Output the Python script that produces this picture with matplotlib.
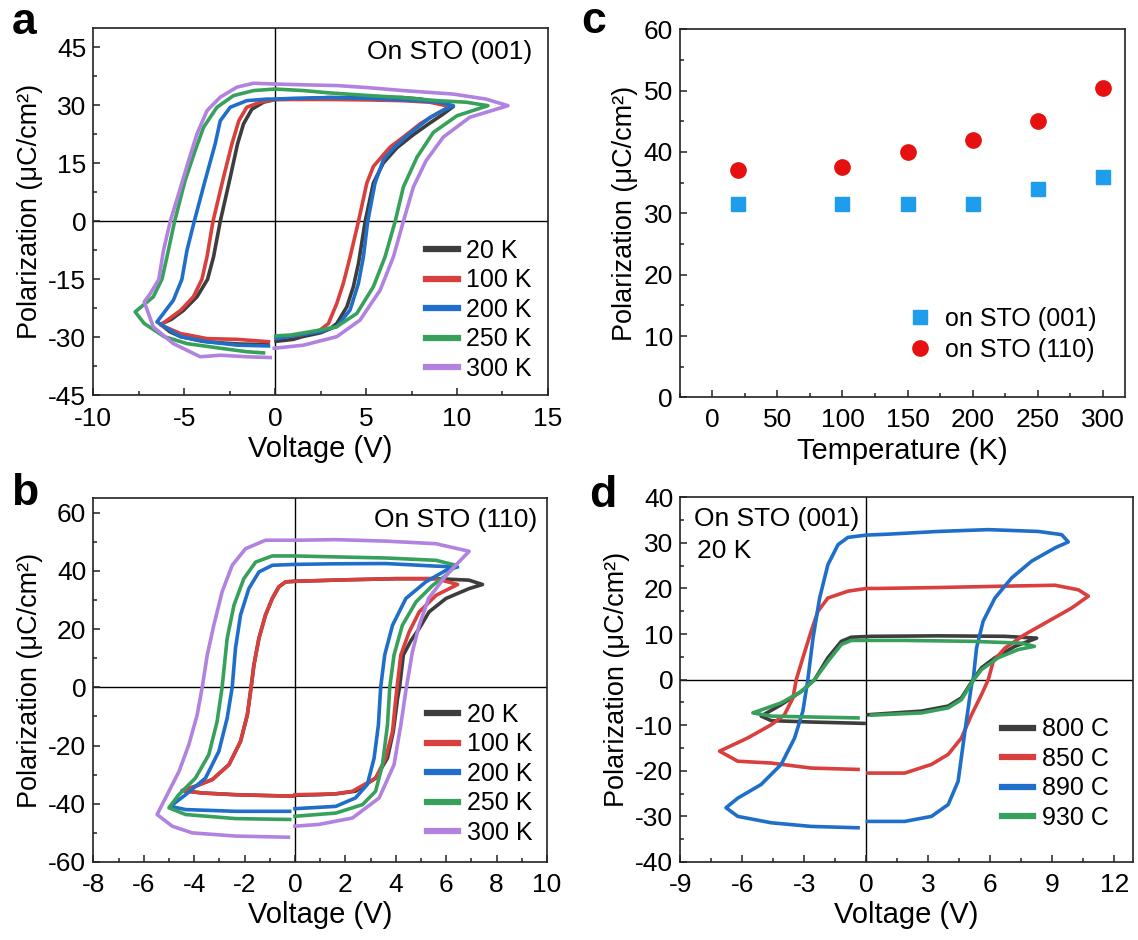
import matplotlib
matplotlib.use("Agg")
import matplotlib.pyplot as plt
from matplotlib.ticker import MultipleLocator

plt.rcParams['font.family'] = ['Liberation Sans', 'DejaVu Sans']
plt.rcParams['axes.unicode_minus'] = False

# ---------------- colours ----------------
C_BLACK = '#3d3d3d'
C_RED = '#d9403d'
C_BLUE = '#1f6fca'
C_GREEN = '#37a15c'
C_PURPLE = '#b182e0'

# ---------------- panel a : On STO (001) ----------------
a_labels = ['20 K', '100 K', '200 K', '250 K', '300 K']

a20_V = [0.05, 1.0, 1.5, 2.5, 3.0, 3.39, 3.94, 4.3, 4.58, 4.95, 5.4, 5.95, 6.69, 7.6, 8.5, 9.2, 9.8,
         9.0, 8.0, 7.0, 5.0, 3.0, 1.0, 0.0, -0.64, -1.28, -1.74, -2.07, -2.47, -3.02, -3.39,
         -3.72, -4.3, -5.04, -5.7, -6.3, -5.8, -5.2, -4.0, -3.0, -2.0, -1.0, -0.4]
a20_P = [-31.0, -30.5, -29.8, -28.8, -27.8, -26.4, -22.1, -16.9, -10.9, 0.0, 9.9, 15.1, 19.0, 22.4, 25.4, 27.6, 29.7,
         30.6, 31.6, 32.0, 32.0, 32.0, 31.6, 31.5, 30.8, 29.0, 25.2, 20.0, 11.4, 0.0, -9.2,
         -15.0, -19.5, -23.0, -25.3, -26.6, -28.5, -29.8, -31.0, -31.4, -31.7, -31.8, -31.8]

a100_V = [0.05, 1.0, 1.56, 2.47, 2.93, 3.39, 3.75, 4.12, 4.58, 5.04, 5.4, 5.77, 6.32, 7.05, 7.97, 8.8, 9.6,
          8.5, 7.0, 5.0, 3.0, 1.0, 0.0, -0.82, -1.56, -2.0, -2.38, -2.84, -3.42, -3.75, -4.03,
          -4.5, -5.2, -6.3, -5.2, -3.75, -2.1, -0.37]
a100_P = [-30.0, -29.6, -29.2, -28.1, -26.4, -21.2, -16.0, -9.2, 0.0, 9.9, 14.2, 16.2, 19.2, 21.8, 25.2, 27.6, 29.7,
          30.8, 31.2, 31.4, 31.5, 31.5, 31.5, 30.8, 29.5, 26.0, 20.0, 11.4, 0.0, -9.2, -15.0,
          -19.5, -23.0, -26.8, -29.0, -30.3, -30.5, -31.1]

a200_V = [0.05, 1.5, 2.5, 3.39, 4.12, 4.58, 4.85, 5.09, 5.49, 5.95, 6.5, 7.42, 8.5, 9.2, 9.8,
          9.0, 7.5, 5.0, 3.0, 1.0, 0.0, -0.46, -1.56, -2.47, -3.02, -3.3, -3.85, -4.45, -4.85,
          -5.13, -5.6, -6.5, -5.2, -3.75, -2.1, -0.37]
a200_P = [-30.3, -29.2, -28.5, -27.2, -22.9, -16.0, -9.2, 0.0, 9.9, 15.9, 18.9, 22.8, 26.8, 28.6, 29.9,
          30.8, 31.3, 31.8, 32.0, 31.8, 31.6, 31.6, 31.2, 29.5, 26.0, 20.0, 10.6, 0.0, -7.5,
          -15.0, -20.4, -26.0, -29.8, -31.1, -32.0, -32.2]

a250_V = [0.04, 0.82, 2.47, 3.39, 4.49, 5.4, 6.04, 6.6, 7.05, 7.8, 8.7, 10.0, 11.7,
          10.5, 8.9, 7.0, 5.2, 3.0, 1.56, 0.0, -1.19, -2.29, -3.2, -3.94, -4.4, -4.95, -5.53,
          -5.95, -6.23, -6.7, -7.7, -7.2, -6.1, -4.85, -3.0, -1.56, -0.64]
a250_P = [-29.6, -29.4, -28.1, -27.2, -23.8, -16.9, -9.2, 0.0, 8.9, 16.6, 23.0, 27.3, 29.9,
          30.8, 31.2, 32.0, 32.5, 33.2, 33.8, 34.2, 33.8, 32.5, 29.5, 24.3, 18.3, 10.6, 0.0,
          -9.2, -15.0, -19.5, -23.4, -26.4, -29.8, -31.6, -32.8, -33.7, -34.0]

a300_V = [-0.05, 1.56, 3.39, 4.67, 5.77, 6.5, 7.05, 7.6, 8.3, 9.25, 10.7, 12.8,
          11.6, 9.8, 7.05, 5.0, 3.4, 1.5, 0.0, -1.19, -2.1, -3.02, -3.75, -4.3, -4.76, -5.31,
          -5.77, -6.14, -6.4, -6.87, -7.2, -6.7, -5.6, -4.12, -3.0, -1.56, -0.27]
a300_P = [-32.8, -32.0, -29.8, -25.5, -17.8, -9.2, 0.0, 8.9, 15.7, 21.8, 26.9, 29.9,
          31.6, 32.9, 33.8, 34.6, 35.1, 35.3, 35.5, 35.7, 34.7, 32.1, 28.6, 22.6, 15.7, 7.1,
          0.0, -7.5, -15.0, -18.7, -20.8, -27.3, -31.6, -35.0, -34.6, -35.0, -35.2]

# ---------------- panel b : On STO (110) ----------------
b_labels = ['20 K', '100 K', '200 K', '250 K', '300 K']

b20_V = [0.0, 0.95, 1.62, 2.4, 3.2, 3.67, 3.9, 4.07, 4.15, 4.3, 4.6, 4.93, 5.32, 5.99, 6.91, 7.44,
         6.9, 5.6, 4.0, 2.0, 0.0, -0.37, -0.64, -0.9, -1.17, -1.43, -1.63, -1.74, -1.89, -2.16,
         -2.62, -3.28, -3.95, -4.48, -3.68, -2.36, -1.03, -0.1]
b20_P = [-37.1, -36.9, -36.6, -35.7, -31.2, -24.3, -15.2, -3.8, 0.0, 11.1, 16.0, 20.2, 25.9, 30.5, 33.9, 35.3,
         36.8, 37.3, 37.3, 36.9, 36.4, 36.2, 34.5, 30.5, 24.8, 16.8, 7.6, 0.0, -9.5, -18.6,
         -26.6, -31.7, -34.0, -35.5, -36.3, -36.9, -37.2, -37.4]

b100_V = [0.0, 1.62, 2.28, 3.2, 3.6, 3.87, 4.0, 4.05, 4.2, 4.53, 4.93, 5.6, 6.45,
          5.6, 4.0, 2.0, 0.0, -0.37, -0.64, -0.9, -1.17, -1.43, -1.63, -1.74, -1.89, -2.16,
          -2.62, -3.28, -3.95, -4.48, -3.68, -2.36, -1.03, -0.1]
b100_P = [-36.9, -36.6, -35.7, -31.2, -24.3, -15.2, -3.8, 0.0, 11.1, 19.0, 25.9, 31.6, 35.3,
          37.3, 37.3, 36.9, 36.4, 36.2, 34.5, 30.5, 24.8, 16.8, 7.6, 0.0, -9.5, -18.6,
          -26.6, -31.7, -34.0, -35.5, -36.3, -36.9, -37.2, -37.4]

b200_V = [0.0, 1.62, 2.4, 2.87, 3.14, 3.31, 3.4, 3.56, 3.87, 4.4, 5.19, 6.0, 6.45,
          5.6, 3.6, 1.5, 0.0, -0.9, -1.43, -1.83, -2.16, -2.36, -2.49, -2.69, -3.02, -3.55,
          -4.34, -4.94, -4.34, -2.36, -0.21]
b200_P = [-41.7, -40.9, -38.0, -33.4, -24.3, -12.9, 0.0, 11.1, 21.3, 30.5, 36.2, 40.2, 41.3,
          41.6, 42.5, 42.4, 42.2, 41.9, 39.6, 33.9, 24.8, 13.4, 0.0, -10.6, -22.0, -31.2,
          -36.9, -40.9, -42.0, -42.6, -42.6]

b250_V = [0.0, 1.62, 2.68, 3.2, 3.47, 3.67, 3.76, 3.93, 4.26, 4.8, 5.46, 6.0, 6.38,
          5.6, 3.6, 1.5, 0.0, -0.9, -1.56, -2.03, -2.42, -2.69, -2.89, -3.09, -3.42, -3.95,
          -4.61, -5.0, -4.34, -2.36, -0.21]
b250_P = [-44.3, -43.2, -40.3, -35.7, -26.6, -12.9, 0.0, 11.1, 21.3, 29.3, 35.0, 38.5, 41.9,
          43.6, 44.4, 44.8, 45.1, 45.1, 43.0, 37.3, 28.2, 16.8, 0.0, -11.8, -23.2, -31.2,
          -36.9, -41.4, -43.7, -45.1, -45.4]

b300_V = [0.0, 0.95, 2.28, 3.34, 3.93, 4.2, 4.42, 4.66, 4.93, 5.3, 6.0, 6.91,
          5.59, 3.6, 1.62, 0.0, -1.17, -1.96, -2.49, -2.89, -3.22, -3.48, -3.68, -3.88, -4.21,
          -4.6, -5.0, -5.47, -4.87, -4.08, -2.36, -0.26]
b300_P = [-47.7, -47.1, -44.9, -38.0, -26.6, -12.9, 0.0, 12.2, 21.3, 30.5, 38.5, 46.7,
          49.3, 50.2, 50.7, 50.5, 50.5, 47.6, 41.9, 32.8, 21.3, 11.1, 0.0, -9.5, -19.7,
          -28.9, -35.7, -43.7, -47.7, -50.0, -51.1, -51.5]

# ---------------- panel c : remanent polarization vs temperature ----------------
c_T = [20, 100, 150, 200, 250, 300]
c_P001 = [31.5, 31.5, 31.5, 31.5, 34.0, 36.0]
c_P110 = [37.0, 37.6, 40.0, 42.0, 45.0, 50.5]
c_labels = ['on STO (001)', 'on STO (110)']

# ---------------- panel d : On STO (001), 20 K, growth temperature ----------------
d_labels = ['800 C', '850 C', '890 C', '930 C']

d800_V = [0.08, 2.67, 3.96, 4.6, 5.17, 5.57, 6.22, 7.19, 8.24,
          6.7, 3.47, 0.24, -0.73, -1.21, -1.86, -2.5, -3.15, -4.12, -5.09,
          -4.6, -2.67, -0.11]
d800_P = [-7.7, -6.9, -5.8, -4.0, 0.0, 2.6, 4.8, 7.3, 9.1,
          9.5, 9.6, 9.5, 9.3, 8.4, 4.8, 0.0, -2.6, -5.5, -8.0,
          -9.0, -9.3, -9.6]

d850_V = [0.08, 1.86, 3.15, 3.96, 4.6, 5.09, 5.57, 5.9, 6.14, 6.7, 7.67, 8.8, 9.93, 10.74,
          10.26, 9.13, 6.7, 3.47, 0.57, 0.0, -0.89, -1.86, -2.34, -2.67, -3.07, -3.39, -3.55,
          -3.96, -4.6, -5.74, -7.1, -6.22, -4.6, -2.67, -0.4]
d850_P = [-20.5, -20.5, -18.6, -16.4, -12.8, -7.7, -3.3, 0.0, 4.0, 6.9, 9.9, 12.8, 15.7, 18.3,
          19.7, 20.7, 20.5, 20.2, 20.0, 20.0, 19.4, 17.9, 15.0, 10.6, 4.8, 0.0, -4.0,
          -7.7, -9.9, -12.8, -15.7, -17.9, -18.3, -19.4, -19.7]

d890_V = [0.05, 1.86, 3.15, 3.96, 4.44, 4.77, 5.09, 5.17, 5.33, 5.65, 6.22, 7.03, 8.0, 9.13, 9.77,
          9.45, 8.32, 5.9, 3.47, 1.05, 0.0, -0.89, -1.37, -1.86, -2.26, -2.58, -2.83, -3.07,
          -3.47, -4.12, -5.09, -6.22, -6.79, -6.22, -4.6, -2.67, -0.4]
d890_P = [-31.1, -31.1, -30.0, -27.4, -22.3, -11.3, -1.1, 0.0, 6.9, 12.8, 17.9, 22.3, 26.0, 28.9, 30.2,
          31.8, 32.5, 32.9, 32.5, 31.9, 31.7, 31.2, 29.6, 25.2, 17.9, 9.1, 0.0, -6.9,
          -12.8, -18.6, -23.0, -26.0, -28.1, -30.0, -31.4, -32.2, -32.5]

d930_V = [0.24, 2.67, 3.96, 4.6, 5.17, 5.57, 6.38, 7.35, 8.13,
          7.51, 5.09, 1.86, 0.0, -0.73, -1.21, -1.86, -2.5, -3.15, -4.12, -5.49,
          -4.6, -2.67, -0.4]
d930_P = [-7.8, -7.3, -6.2, -4.4, -0.2, 2.2, 4.8, 6.6, 7.3,
          8.0, 8.4, 8.6, 8.6, 8.6, 7.7, 4.0, 0.0, -2.6, -5.1, -7.3,
          -8.0, -8.2, -8.4]

# ---------------- figure ----------------
fig = plt.figure(figsize=(11.38, 9.4), dpi=100)

TICK_FS = 19
XLABEL_FS = 21
YLABEL_FS = 19.5
LEG_FS = 18
ANN_FS = 19
LW = 2.6


def style(ax, xmaj, xmin, ymaj, ymin):
    ax.xaxis.set_major_locator(MultipleLocator(xmaj))
    ax.xaxis.set_minor_locator(MultipleLocator(xmin))
    ax.yaxis.set_major_locator(MultipleLocator(ymaj))
    ax.yaxis.set_minor_locator(MultipleLocator(ymin))
    ax.tick_params(which='both', direction='in', top=False, right=False,
                   labelsize=TICK_FS, width=1.1, color='#222222')
    ax.tick_params(axis='x', which='both', pad=8)
    ax.tick_params(axis='y', which='both', pad=5)
    ax.tick_params(which='major', length=5)
    ax.tick_params(which='minor', length=3)
    for s in ax.spines.values():
        s.set_linewidth(1.2)
        s.set_color('#222222')


def labels(ax, xlab):
    ax.set_xlabel(xlab, fontsize=XLABEL_FS, labelpad=3)
    ax.set_ylabel('Polarization (μC/cm²)', fontsize=YLABEL_FS, labelpad=4)


def zero_lines(ax):
    ax.axhline(0, color='black', lw=1.0, zorder=1)
    ax.axvline(0, color='black', lw=1.0, zorder=1)


def loop_legend(ax, anchor):
    leg = ax.legend(loc='lower right', bbox_to_anchor=anchor, frameon=False,
                    fontsize=LEG_FS, handlelength=1.25, handletextpad=0.35,
                    labelspacing=0.22, borderpad=0, borderaxespad=0)
    for h in leg.get_lines():
        h.set_linewidth(4.5)
    return leg


# panel a
ax_a = fig.add_axes([0.0820, 0.5793, 0.3995, 0.3910])
zero_lines(ax_a)
a_data = [(a20_V, a20_P, C_BLACK), (a100_V, a100_P, C_RED), (a200_V, a200_P, C_BLUE),
          (a250_V, a250_P, C_GREEN), (a300_V, a300_P, C_PURPLE)]
for (v, p, c), lab in zip(a_data, a_labels):
    ax_a.plot(v, p, color=c, lw=LW, label=lab, solid_joinstyle='round', zorder=3)
ax_a.set_xlim(-10, 15)
ax_a.set_ylim(-45, 50)
style(ax_a, 5, 2.5, 15, 7.5)
labels(ax_a, 'Voltage (V)')
ax_a.text(0.965, 0.935, 'On STO (001)', transform=ax_a.transAxes, ha='right', va='center',
          fontsize=ANN_FS)
loop_legend(ax_a, (0.965, 0.04))

# panel b
ax_b = fig.add_axes([0.0820, 0.0830, 0.3987, 0.3872])
zero_lines(ax_b)
b_data = [(b20_V, b20_P, C_BLACK), (b100_V, b100_P, C_RED), (b200_V, b200_P, C_BLUE),
          (b250_V, b250_P, C_GREEN), (b300_V, b300_P, C_PURPLE)]
for (v, p, c), lab in zip(b_data, b_labels):
    ax_b.plot(v, p, color=c, lw=LW, label=lab, solid_joinstyle='round', zorder=3)
ax_b.set_xlim(-8, 10)
ax_b.set_ylim(-60, 65)
style(ax_b, 2, 1, 20, 10)
labels(ax_b, 'Voltage (V)')
ax_b.text(0.979, 0.94, 'On STO (110)', transform=ax_b.transAxes, ha='right', va='center',
          fontsize=ANN_FS)
loop_legend(ax_b, (0.968, 0.047))

# panel c
ax_c = fig.add_axes([0.5973, 0.5773, 0.3913, 0.3915])
ax_c.plot(c_T, c_P001, linestyle='none', marker='s', ms=9.5, color='#1e9ded',
          label=c_labels[0], zorder=3)
ax_c.plot(c_T, c_P110, linestyle='none', marker='o', ms=11, color='#e5100f',
          label=c_labels[1], zorder=3)
ax_c.set_xlim(-25, 317)
ax_c.set_ylim(0, 60)
style(ax_c, 50, 25, 10, 5)
labels(ax_c, 'Temperature (K)')
ax_c.legend(loc='lower right', bbox_to_anchor=(0.935, 0.096), frameon=False,
            fontsize=LEG_FS, handlelength=1.0, handletextpad=0.5, labelspacing=0.3,
            borderpad=0, borderaxespad=0)

# panel d
ax_d = fig.add_axes([0.5978, 0.0830, 0.3978, 0.3880])
zero_lines(ax_d)
d_data = [(d800_V, d800_P, C_BLACK), (d850_V, d850_P, C_RED), (d890_V, d890_P, C_BLUE),
          (d930_V, d930_P, C_GREEN)]
for (v, p, c), lab in zip(d_data, d_labels):
    ax_d.plot(v, p, color=c, lw=LW, label=lab, solid_joinstyle='round', zorder=3)
ax_d.set_xlim(-9, 12.9)
ax_d.set_ylim(-40, 40)
style(ax_d, 3, 1.5, 10, 5)
labels(ax_d, 'Voltage (V)')
ax_d.text(0.03, 0.941, 'On STO (001)', transform=ax_d.transAxes, ha='left', va='center',
          fontsize=ANN_FS)
ax_d.text(0.037, 0.853, '20 K', transform=ax_d.transAxes, ha='left', va='center',
          fontsize=ANN_FS)
loop_legend(ax_d, (0.947, 0.088))

# panel letters
for x, y, s in [(0.010, 1 - 34 / 940, 'a'), (0.010, 1 - 505 / 940, 'b'),
                (0.511, 1 - 33 / 940, 'c'), (0.518, 1 - 507 / 940, 'd')]:
    fig.text(x, y, s, fontsize=32, fontweight='bold', va='baseline', ha='left')

fig.savefig('out.png', dpi=100)
